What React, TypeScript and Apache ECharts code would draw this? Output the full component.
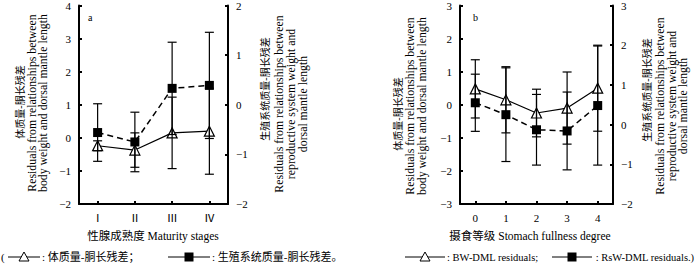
import React, { useEffect, useRef } from 'react';
import * as echarts from 'echarts';

// Panel a: maturity stages
const stagesA = ['Ⅰ', 'Ⅱ', 'Ⅲ', 'Ⅳ'];
const bwA = [-0.24, -0.37, 0.15, 0.2];
const bwASd = [0.15, 0.52, 1.08, 1.3];
const rswA = [-0.56, -0.75, 0.33, 0.39];
const rswASd = [0.58, 0.6, 0.93, 1.07];

// Panel b: stomach fullness degree
const gradesB = ['0', '1', '2', '3', '4'];
const bwB = [0.48, 0.15, -0.25, -0.1, 0.5];
const bwBSd = [0.88, 1.0, 0.72, 1.09, 1.3];
const rswB = [0.55, 0.25, -0.13, -0.16, 0.48];
const rswBSd = [0.72, 1.18, 0.89, 0.98, 1.5];

const SERIF = "'Liberation Serif', 'Times New Roman', 'Noto Sans CJK SC', serif";
const FS = 11;

const fmt = (v: number) => (v < 0 ? '−' + Math.abs(v) : String(v));

function xAxisCfg(grid: number, data: string[]) {
  return {
    type: 'category',
    gridIndex: grid,
    data,
    boundaryGap: true,
    axisLine: { show: true, onZero: false, lineStyle: { color: '#000', width: 2 } },
    axisTick: { show: true, inside: true, alignWithLabel: true, length: 3, lineStyle: { color: '#000', width: 2 } },
    axisLabel: { color: '#000', fontFamily: SERIF, fontSize: FS, margin: 8 },
    splitLine: { show: false },
  };
}

function yAxisCfg(grid: number, pos: 'left' | 'right', min: number, max: number) {
  return {
    type: 'value',
    gridIndex: grid,
    position: pos,
    min,
    max,
    interval: 1,
    axisLine: { show: true, onZero: false, lineStyle: { color: '#000', width: 2 } },
    axisTick: { show: true, inside: true, length: 3, lineStyle: { color: '#000', width: 2 } },
    axisLabel: { color: '#000', fontFamily: SERIF, fontSize: FS, margin: 8, formatter: fmt },
    splitLine: { show: false },
  };
}

function errSeries(xi: number, yi: number, vals: number[], sds: number[], z: number) {
  return {
    type: 'custom',
    xAxisIndex: xi,
    yAxisIndex: yi,
    z,
    silent: true,
    data: vals.map((v, i) => [i, v - sds[i], v + sds[i]]),
    encode: { x: 0, y: [1, 2] },
    renderItem: (params: any, api: any) => {
      const i = api.value(0);
      const lo = api.coord([i, api.value(1)]);
      const hi = api.coord([i, api.value(2)]);
      const w = 4.5;
      const style = { stroke: '#000', lineWidth: 1.2, fill: 'none' };
      return {
        type: 'group',
        children: [
          { type: 'line', shape: { x1: lo[0], y1: lo[1], x2: hi[0], y2: hi[1] }, style },
          { type: 'line', shape: { x1: lo[0] - w, y1: lo[1], x2: lo[0] + w, y2: lo[1] }, style },
          { type: 'line', shape: { x1: hi[0] - w, y1: hi[1], x2: hi[0] + w, y2: hi[1] }, style },
        ],
      };
    },
  };
}

function triSeries(xi: number, yi: number, vals: number[]) {
  return {
    type: 'line',
    xAxisIndex: xi,
    yAxisIndex: yi,
    data: vals,
    z: 2,
    symbol: 'triangle',
    symbolSize: 10,
    showAllSymbol: true,
    itemStyle: { color: '#fff', borderColor: '#000', borderWidth: 1.2 },
    lineStyle: { color: '#000', width: 1.2 },
    silent: true,
  };
}

function sqSeries(xi: number, yi: number, vals: number[]) {
  return {
    type: 'line',
    xAxisIndex: xi,
    yAxisIndex: yi,
    data: vals,
    z: 4,
    symbol: 'rect',
    symbolSize: 9,
    showAllSymbol: true,
    itemStyle: { color: '#000', borderColor: '#000', borderWidth: 0 },
    lineStyle: { color: '#000', width: 1.5, type: [6, 4] },
    silent: true,
  };
}

function vtext(x: number, y: number, text: string, size: number, lh: number) {
  return {
    type: 'text',
    x,
    y,
    rotation: Math.PI / 2,
    style: {
      text,
      fill: '#000',
      font: `${size}px ${SERIF}`,
      align: 'center',
      verticalAlign: 'middle',
      lineHeight: lh,
    },
  };
}

function htext(x: number, y: number, text: string, align: string = 'left', size: number = FS) {
  return {
    type: 'text',
    x,
    y,
    style: { text, fill: '#000', font: `${size}px ${SERIF}`, align, verticalAlign: 'middle' },
  };
}

function legendLine(x1: number, x2: number, y: number) {
  return { type: 'line', shape: { x1, y1: y, x2, y2: y }, style: { stroke: '#000', lineWidth: 1 } };
}
function legendTri(cx: number, cy: number) {
  return {
    type: 'polygon',
    shape: { points: [[cx, cy - 5], [cx - 5, cy + 4], [cx + 5, cy + 4]] },
    style: { fill: '#fff', stroke: '#000', lineWidth: 1 },
  };
}
function legendSq(cx: number, cy: number) {
  return { type: 'rect', shape: { x: cx - 4.5, y: cy - 4.5, width: 9, height: 9 }, style: { fill: '#000' } };
}

export default function App() {
  const ref = useRef<HTMLDivElement>(null);
  useEffect(() => {
    if (!ref.current) return;
    const chart = echarts.init(ref.current, undefined, { renderer: 'svg' });
    const engA = 'Residuals from relationships between\nbody weight and dorsal mantle length';
    const engR = 'Residuals from relationships between\nreproductive system weight and\ndorsal mantle length';
    const LY = 257;
    const TS = 11.8;
    chart.setOption({
      animation: false,
      backgroundColor: '#fff',
      grid: [
        { left: 79, top: 5, width: 149, height: 199 },
        { left: 460, top: 5, width: 153, height: 199 },
      ],
      xAxis: [xAxisCfg(0, stagesA), xAxisCfg(1, gradesB)],
      yAxis: [
        yAxisCfg(0, 'left', -2, 4),
        yAxisCfg(0, 'right', -2, 2),
        yAxisCfg(1, 'left', -3, 3),
        yAxisCfg(1, 'right', -2, 3),
      ],
      series: [
        triSeries(0, 0, bwA),
        errSeries(0, 0, bwA, bwASd, 3),
        errSeries(0, 1, rswA, rswASd, 3),
        sqSeries(0, 1, rswA),
        triSeries(1, 2, bwB),
        errSeries(1, 2, bwB, bwBSd, 3),
        errSeries(1, 3, rswB, rswBSd, 3),
        sqSeries(1, 3, rswB),
      ],
      graphic: [
        // panel labels
        htext(88, 17, 'a', 'left', 10),
        htext(473, 17, 'b', 'left', 10),
        // y-axis titles panel a
        vtext(20, 102, '体质量-胴长残差', 10, 12),
        vtext(37.5, 103, engA, TS, 11.5),
        vtext(265, 89, '生殖系统质量-胴长残差', 10, 12),
        vtext(291, 104, engR, TS, 12),
        // y-axis titles panel b
        vtext(398, 114, '体质量-胴长残差', 10, 12),
        vtext(416, 106, engA, TS, 11.5),
        vtext(647, 90, '生殖系统质量-胴长残差', 10, 12),
        vtext(671.5, 106, engR, TS, 11.5),
        // x-axis titles
        htext(153, 236, '性腺成熟度 Maturity stages', 'center', 11.5),
        htext(530, 236, '摄食等级 Stomach fullness degree', 'center', 11.5),
        // legend
        htext(1, LY, '(', 'left', FS),
        legendLine(8, 40, LY),
        legendTri(24, LY),
        htext(42, LY, ': 体质量-胴长残差；', 'left', FS),
        legendLine(168, 210, LY),
        legendSq(189, LY),
        htext(212, LY, ': 生殖系统质量-胴长残差。', 'left', FS),
        legendLine(405, 445, LY),
        legendTri(425, LY),
        htext(447, LY, ': BW-DML residuals;', 'left', 10.5),
        legendLine(552, 592, LY),
        legendSq(572, LY),
        htext(593, LY, ' : RsW-DML residuals.)', 'left', 10.5),
      ],
    });
    return () => chart.dispose();
  }, []);
  return <div ref={ref} style={{ width: 700, height: 269, position: 'fixed', left: 0, top: 0 }} />;
}
